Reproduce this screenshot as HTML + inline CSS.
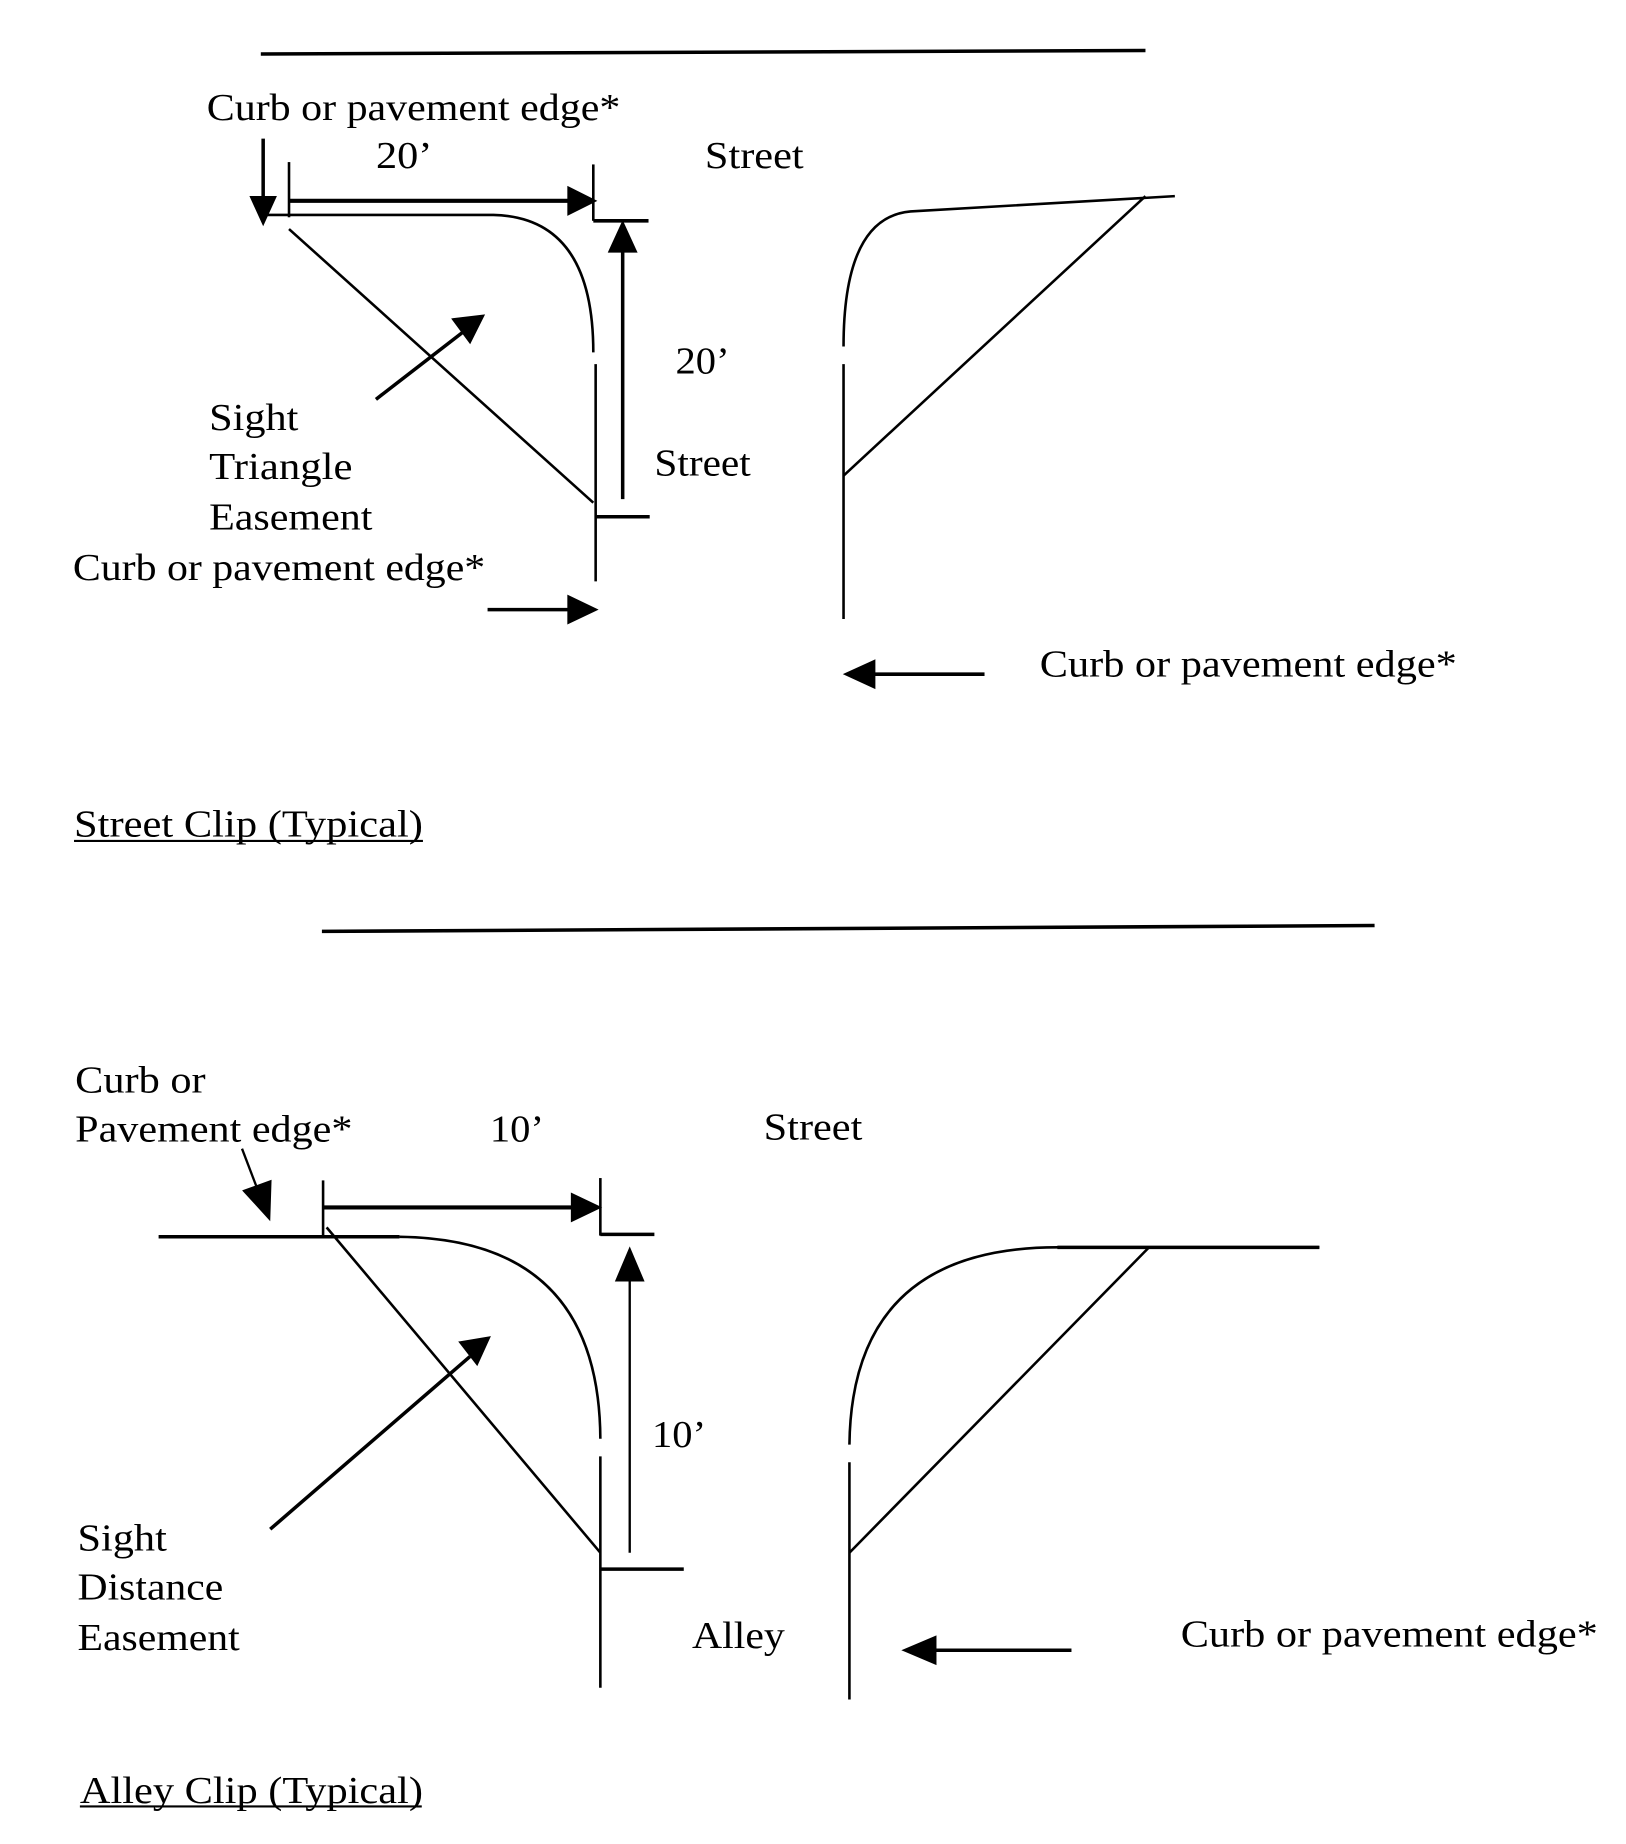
<!DOCTYPE html>
<html><head><style>html,body{margin:0;padding:0;background:#fff;}svg{display:block}</style></head>
<body>
<svg width="1626" height="1844" viewBox="0 0 1384 1570" preserveAspectRatio="none" xmlns="http://www.w3.org/2000/svg">
<g fill="none" stroke="#000" stroke-width="2.2">
<line x1="222" y1="46" x2="975" y2="43" stroke-width="3"/>
<line x1="224" y1="118" x2="224" y2="175" stroke-width="3"/>
<path d="M214,168 L224,190 L234,168 Z" fill="#000"/>
<line x1="246" y1="138" x2="246" y2="185"/>
<line x1="246" y1="171" x2="488" y2="171" stroke-width="3.5"/>
<path d="M484,160 L506,171 L484,182 Z" fill="#000"/>
<line x1="505" y1="140" x2="505" y2="188"/>
<line x1="505" y1="188" x2="552" y2="188" stroke-width="3"/>
<path d="M224,183 L420,183 Q505,185 505,300"/>
<line x1="507" y1="310" x2="507" y2="495"/>
<line x1="246" y1="195" x2="505" y2="428"/>
<line x1="507" y1="440" x2="553" y2="440" stroke-width="3"/>
<line x1="530" y1="425" x2="530" y2="210" stroke-width="3"/>
<path d="M519,214 L530,190 L541,214 Z" fill="#000"/>
<line x1="320" y1="340" x2="395" y2="282" stroke-width="3"/>
<path d="M386,272 L411,269 L400,291 Z" fill="#000"/>
<line x1="415" y1="519" x2="488" y2="519" stroke-width="3"/>
<path d="M484,508 L507,519 L484,530 Z" fill="#000"/>
<line x1="718" y1="527" x2="718" y2="310"/>
<path d="M718,295 Q718,185 775,180 L1000,167"/>
<line x1="718" y1="405" x2="975" y2="167"/>
<line x1="838" y1="574" x2="740" y2="574" stroke-width="3"/>
<path d="M744,563 L720,574 L744,585 Z" fill="#000"/>
<line x1="63" y1="716" x2="360" y2="716" stroke-width="1.8"/>
<line x1="274" y1="793" x2="1170" y2="788" stroke-width="3"/>
<line x1="206" y1="978" x2="222" y2="1020" stroke-width="2"/>
<path d="M208,1014 L229,1037 L230,1006 Z" fill="#000"/>
<line x1="275" y1="1005" x2="275" y2="1052"/>
<line x1="275" y1="1028" x2="492" y2="1028" stroke-width="3.5"/>
<path d="M487,1017 L510,1028 L487,1039 Z" fill="#000"/>
<line x1="511" y1="1003" x2="511" y2="1052"/>
<line x1="511" y1="1051" x2="557" y2="1051" stroke-width="3"/>
<line x1="135" y1="1053" x2="340" y2="1053" stroke-width="3"/>
<path d="M340,1053 Q510,1055 511,1225"/>
<line x1="511" y1="1240" x2="511" y2="1437"/>
<line x1="278" y1="1045" x2="511" y2="1322"/>
<line x1="511" y1="1336" x2="582" y2="1336" stroke-width="3"/>
<line x1="536" y1="1322" x2="536" y2="1088" stroke-width="2"/>
<path d="M525,1090 L536,1064 L547,1090 Z" fill="#000"/>
<line x1="230" y1="1302" x2="400" y2="1155" stroke-width="3"/>
<path d="M392,1143 L416,1139 L406,1161 Z" fill="#000"/>
<line x1="723" y1="1447" x2="723" y2="1245"/>
<path d="M723,1230 Q725,1062 900,1062 L1123,1062"/>
<line x1="900" y1="1062" x2="1123" y2="1062" stroke-width="3"/>
<line x1="723" y1="1322" x2="978" y2="1062"/>
<line x1="912" y1="1405" x2="792" y2="1405" stroke-width="3"/>
<path d="M796,1394 L770,1405 L796,1416 Z" fill="#000"/>
<line x1="68" y1="1538" x2="359" y2="1538" stroke-width="1.8"/>
</g>
<g font-family="Liberation Serif, serif" font-size="32" fill="#000" lengthAdjust="spacingAndGlyphs">
<text x="176" y="102" textLength="352" lengthAdjust="spacingAndGlyphs">Curb or pavement edge*</text>
<text x="320" y="143" textLength="48" lengthAdjust="spacingAndGlyphs">20’</text>
<text x="600" y="143" textLength="84" lengthAdjust="spacingAndGlyphs">Street</text>
<text x="575" y="318" textLength="46" lengthAdjust="spacingAndGlyphs">20’</text>
<text x="557" y="405" textLength="82" lengthAdjust="spacingAndGlyphs">Street</text>
<text x="178" y="366" textLength="76" lengthAdjust="spacingAndGlyphs">Sight</text>
<text x="178" y="408" textLength="122" lengthAdjust="spacingAndGlyphs">Triangle</text>
<text x="178" y="451" textLength="139" lengthAdjust="spacingAndGlyphs">Easement</text>
<text x="62" y="494" textLength="351" lengthAdjust="spacingAndGlyphs">Curb or pavement edge*</text>
<text x="885" y="576" textLength="355" lengthAdjust="spacingAndGlyphs">Curb or pavement edge*</text>
<text x="63" y="712" textLength="297" lengthAdjust="spacingAndGlyphs">Street Clip (Typical)</text>
<text x="64" y="930" textLength="111" lengthAdjust="spacingAndGlyphs">Curb or</text>
<text x="64" y="972" textLength="236" lengthAdjust="spacingAndGlyphs">Pavement edge*</text>
<text x="417" y="972" textLength="46" lengthAdjust="spacingAndGlyphs">10’</text>
<text x="650" y="970" textLength="84" lengthAdjust="spacingAndGlyphs">Street</text>
<text x="555" y="1232" textLength="46" lengthAdjust="spacingAndGlyphs">10’</text>
<text x="66" y="1320" textLength="76" lengthAdjust="spacingAndGlyphs">Sight</text>
<text x="66" y="1362" textLength="124" lengthAdjust="spacingAndGlyphs">Distance</text>
<text x="66" y="1405" textLength="138" lengthAdjust="spacingAndGlyphs">Easement</text>
<text x="589" y="1403" textLength="79" lengthAdjust="spacingAndGlyphs">Alley</text>
<text x="1005" y="1402" textLength="355" lengthAdjust="spacingAndGlyphs">Curb or pavement edge*</text>
<text x="68" y="1535" textLength="292" lengthAdjust="spacingAndGlyphs">Alley Clip (Typical)</text>
</g>
</svg>
</body></html>
